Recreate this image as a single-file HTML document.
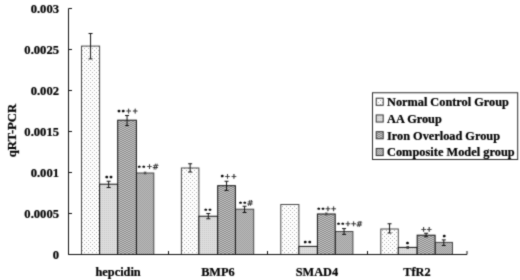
<!DOCTYPE html>
<html><head><meta charset="utf-8"><title>qRT-PCR</title>
<style>
html,body{margin:0;padding:0;background:#fff;}
body{width:520px;height:280px;overflow:hidden;}
svg{display:block;}
text{font-family:"Liberation Serif",serif;font-weight:bold;font-size:12.3px;fill:#000;stroke:#000;stroke-width:0.22px;}
.yl{font-size:12.6px;}
.ti{font-size:12.7px;}
.st{font-family:"Liberation Sans",sans-serif;font-weight:bold;font-size:6.4px;stroke:#000;stroke-width:0.55px;}
.pl{font-family:"DejaVu Sans",sans-serif;font-weight:normal;font-size:7px;fill:#111;stroke:#111;stroke-width:0.28px;}
.ha{font-family:"DejaVu Sans",sans-serif;font-weight:normal;font-size:8px;fill:#111;stroke:#111;stroke-width:0.15px;}
</style></head><body>
<svg width="520" height="280" viewBox="0 0 520 280">
<defs>
<filter id="soft" x="0" y="0" width="100%" height="100%" color-interpolation-filters="sRGB"><feConvolveMatrix order="3" kernelMatrix="1 3 1 3 16 3 1 3 1" divisor="32" edgeMode="duplicate" preserveAlpha="true"/></filter>
<pattern id="p1" width="4" height="4" patternUnits="userSpaceOnUse"><rect width="4" height="4" fill="#fff"/><rect x="0" y="0" width="1" height="1" fill="#adadad"/><rect x="2" y="2" width="1" height="1" fill="#adadad"/></pattern>
<pattern id="p2" width="2" height="2" patternUnits="userSpaceOnUse"><rect width="2" height="2" fill="#dedede"/><rect x="0" y="0" width="1" height="1" fill="#c8c8c8"/></pattern>
<pattern id="p3" width="4" height="2" patternUnits="userSpaceOnUse"><rect width="4" height="2" fill="#888888"/><rect x="0" y="0" width="2" height="1" fill="#c6c6c6"/><rect x="2" y="1" width="2" height="1" fill="#c6c6c6"/></pattern>
<pattern id="p4" width="2" height="2" patternUnits="userSpaceOnUse"><rect width="2" height="2" fill="#bebebe"/><rect x="0" y="0" width="1" height="1" fill="#9c9c9c"/><rect x="1" y="1" width="1" height="1" fill="#9c9c9c"/></pattern>
</defs>
<g filter="url(#soft)">
<rect width="520" height="280" fill="#fff"/>

<rect x="81.5" y="46.1" width="18.10" height="208.40" fill="url(#p1)" stroke="#484848" stroke-width="1"/>
<rect x="136.4" y="173" width="17.40" height="81.50" fill="url(#p4)" stroke="#484848" stroke-width="1"/>
<rect x="99.6" y="184.2" width="18.10" height="70.30" fill="url(#p2)" stroke="#111" stroke-width="1"/>
<rect x="117.7" y="120.2" width="18.70" height="134.30" fill="url(#p3)" stroke="#111" stroke-width="1"/>
<path d="M90.55 33.5 V58.9 M88.55 33.5 H92.55 M88.55 58.9 H92.55" stroke="#111" stroke-width="1" fill="none"/>
<path d="M108.65 181.25 V187.5 M106.65 181.25 H110.65 M106.65 187.5 H110.65" stroke="#111" stroke-width="1" fill="none"/>
<path d="M127.05 115.5 V125.6 M125.05 115.5 H129.05 M125.05 125.6 H129.05" stroke="#111" stroke-width="1" fill="none"/>
<path d="M145.10 172.2 V173.8 M143.80 172.2 H146.40 M143.80 173.8 H146.40" stroke="#444" stroke-width="1" fill="none"/>
<rect x="181.4" y="168" width="17.50" height="86.50" fill="url(#p1)" stroke="#484848" stroke-width="1"/>
<rect x="235.4" y="209.2" width="18.30" height="45.30" fill="url(#p4)" stroke="#484848" stroke-width="1"/>
<rect x="198.9" y="216.25" width="18.80" height="38.25" fill="url(#p2)" stroke="#111" stroke-width="1"/>
<rect x="217.7" y="185.7" width="17.70" height="68.80" fill="url(#p3)" stroke="#111" stroke-width="1"/>
<path d="M190.15 163.75 V172 M188.15 163.75 H192.15 M188.15 172 H192.15" stroke="#111" stroke-width="1" fill="none"/>
<path d="M208.30 213.5 V218.75 M206.30 213.5 H210.30 M206.30 218.75 H210.30" stroke="#111" stroke-width="1" fill="none"/>
<path d="M226.55 181.25 V190.5 M224.55 181.25 H228.55 M224.55 190.5 H228.55" stroke="#111" stroke-width="1" fill="none"/>
<path d="M244.55 206.25 V212.5 M242.55 206.25 H246.55 M242.55 212.5 H246.55" stroke="#111" stroke-width="1" fill="none"/>
<rect x="280.8" y="204.5" width="18.10" height="50.00" fill="url(#p1)" stroke="#484848" stroke-width="1"/>
<rect x="335.2" y="231.5" width="17.70" height="23.00" fill="url(#p4)" stroke="#484848" stroke-width="1"/>
<rect x="298.9" y="246.4" width="18.50" height="8.10" fill="url(#p2)" stroke="#111" stroke-width="1"/>
<rect x="317.4" y="214" width="17.80" height="40.50" fill="url(#p3)" stroke="#111" stroke-width="1"/>
<path d="M326.30 213.1 V214.9 M325.00 213.1 H327.60 M325.00 214.9 H327.60" stroke="#444" stroke-width="1" fill="none"/>
<path d="M344.05 228.6 V234.4 M342.05 228.6 H346.05 M342.05 234.4 H346.05" stroke="#111" stroke-width="1" fill="none"/>
<rect x="380.8" y="229" width="17.50" height="25.50" fill="url(#p1)" stroke="#484848" stroke-width="1"/>
<rect x="435.1" y="242.4" width="17.40" height="12.10" fill="url(#p4)" stroke="#484848" stroke-width="1"/>
<rect x="398.3" y="247.4" width="18.85" height="7.10" fill="url(#p2)" stroke="#111" stroke-width="1"/>
<rect x="417.15" y="235.2" width="17.95" height="19.30" fill="url(#p3)" stroke="#111" stroke-width="1"/>
<path d="M389.55 223.75 V233 M387.55 223.75 H391.55 M387.55 233 H391.55" stroke="#111" stroke-width="1" fill="none"/>
<path d="M407.73 246.5 V248.4 M406.43 246.5 H409.03 M406.43 248.4 H409.03" stroke="#444" stroke-width="1" fill="none"/>
<path d="M426.12 233.25 V236.75 M424.12 233.25 H428.12 M424.12 236.75 H428.12" stroke="#111" stroke-width="1" fill="none"/>
<path d="M443.80 239.9 V245.5 M441.80 239.9 H445.80 M441.80 245.5 H445.80" stroke="#111" stroke-width="1" fill="none"/>
<path d="M68.5 8.5 V254.5 H467" stroke="#111" stroke-width="1" fill="none"/>
<path d="M68.5 254.5 H72.0" stroke="#111" stroke-width="1"/>
<path d="M68.5 213.5 H72.0" stroke="#111" stroke-width="1"/>
<path d="M68.5 172.5 H72.0" stroke="#111" stroke-width="1"/>
<path d="M68.5 131.5 H72.0" stroke="#111" stroke-width="1"/>
<path d="M68.5 90.5 H72.0" stroke="#111" stroke-width="1"/>
<path d="M68.5 49.5 H72.0" stroke="#111" stroke-width="1"/>
<path d="M68.5 8.5 H72.0" stroke="#111" stroke-width="1"/>
<path d="M68.5 254.5 V251.0" stroke="#111" stroke-width="1"/>
<path d="M168.5 254.5 V251.0" stroke="#111" stroke-width="1"/>
<path d="M267.5 254.5 V251.0" stroke="#111" stroke-width="1"/>
<path d="M367.5 254.5 V251.0" stroke="#111" stroke-width="1"/>
<path d="M467 254.5 V251.0" stroke="#111" stroke-width="1"/>
<text class="yl" x="59" y="258.7" text-anchor="end">0</text>
<text class="yl" x="59" y="217.7" text-anchor="end">0.0005</text>
<text class="yl" x="59" y="176.7" text-anchor="end">0.001</text>
<text class="yl" x="59" y="135.7" text-anchor="end">0.0015</text>
<text class="yl" x="59" y="94.7" text-anchor="end">0.002</text>
<text class="yl" x="59" y="53.7" text-anchor="end">0.0025</text>
<text class="yl" x="59" y="12.7" text-anchor="end">0.003</text>
<text class="ti" transform="translate(15.5,130.5) rotate(-90)" text-anchor="middle">qRT-PCR</text>
<text x="118.1" y="275.75" text-anchor="middle">hepcidin</text>
<text x="217.9" y="275.75" text-anchor="middle">BMP6</text>
<text x="316.9" y="275.75" text-anchor="middle">SMAD4</text>
<text x="416.9" y="275.75" text-anchor="middle">TfR2</text>
<rect x="372.5" y="92.75" width="145.2" height="66.75" fill="#fff" stroke="#2a2a2a" stroke-width="1"/>
<rect x="376.2" y="98.20" width="7" height="7.1" fill="url(#p1)" stroke="#333" stroke-width="1"/>
<text x="387" y="106.0">Normal Control Group</text>
<rect x="376.2" y="114.95" width="7" height="7.1" fill="url(#p2)" stroke="#333" stroke-width="1"/>
<text x="387" y="122.75">AA Group</text>
<rect x="376.2" y="131.70" width="7" height="7.1" fill="url(#p3)" stroke="#333" stroke-width="1"/>
<text x="387" y="139.5">Iron Overload Group</text>
<rect x="376.2" y="148.45" width="7" height="7.1" fill="url(#p4)" stroke="#333" stroke-width="1"/>
<text x="387" y="156.25" letter-spacing="0.04">Composite Model group</text>
<text class="st" transform="scale(1,0.72)"><tspan x="105.54" y="250.00">*</tspan><tspan x="109.84" y="250.00">*</tspan></text>
<text class="st" transform="scale(1,0.72)"><tspan x="117.64" y="158.33">*</tspan><tspan x="122.09" y="158.33">*</tspan></text>
<text class="ann" transform="rotate(0.03)"><tspan class="pl" x="125.86" y="113.31">+</tspan><tspan class="pl" x="132.36" y="113.31">+</tspan></text>
<text class="st" transform="scale(1,0.72) rotate(0.03)"><tspan x="138.04" y="234.72">*</tspan><tspan x="142.54" y="234.72">*</tspan></text>
<text class="ann" transform="rotate(0.03)"><tspan class="pl" x="146.66" y="168.81">+</tspan><tspan class="ha" x="152.39" y="169.50">#</tspan></text>
<text class="st" transform="scale(1,0.72) rotate(0.03)"><tspan x="204.59" y="294.44">*</tspan><tspan x="208.94" y="294.44">*</tspan></text>
<text class="st" transform="scale(1,0.72)"><tspan x="220.94" y="248.61">*</tspan></text>
<text class="ann" transform="rotate(0.03)"><tspan class="pl" x="224.56" y="178.41">+</tspan><tspan class="pl" x="231.16" y="178.41">+</tspan></text>
<text class="st" transform="scale(1,0.72) rotate(0.03)"><tspan x="239.34" y="284.72">*</tspan><tspan x="243.59" y="284.72">*</tspan></text>
<text class="ann" transform="rotate(0.03)"><tspan class="ha" x="246.89" y="205.60">#</tspan></text>
<text class="st" transform="scale(1,0.72)"><tspan x="304.04" y="340.28">*</tspan><tspan x="308.54" y="340.28">*</tspan></text>
<text class="st" transform="scale(1,0.72) rotate(0.03)"><tspan x="317.74" y="293.06">*</tspan><tspan x="321.94" y="293.06">*</tspan></text>
<text class="ann" transform="rotate(0.03)"><tspan class="pl" x="325.16" y="210.81">+</tspan><tspan class="pl" x="330.96" y="210.81">+</tspan></text>
<text class="st" transform="scale(1,0.72) rotate(0.03)"><tspan x="337.34" y="313.89">*</tspan><tspan x="341.64" y="313.89">*</tspan></text>
<text class="ann" transform="rotate(0.03)"><tspan class="pl" x="345.16" y="225.81">+</tspan><tspan class="pl" x="350.96" y="225.81">+</tspan><tspan class="ha" x="356.04" y="226.50">#</tspan></text>
<text class="st" transform="scale(1,0.72)"><tspan x="406.34" y="341.67">*</tspan></text>
<text class="ann" transform="rotate(0.03)"><tspan class="pl" x="420.96" y="231.21">+</tspan><tspan class="pl" x="426.46" y="231.21">+</tspan></text>
<text class="st" transform="scale(1,0.72)"><tspan x="442.94" y="331.94">*</tspan></text>
</g>
</svg></body></html>
